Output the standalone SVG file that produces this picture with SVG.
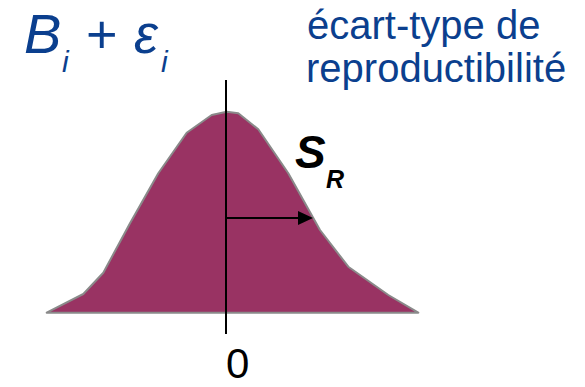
<svg xmlns="http://www.w3.org/2000/svg" width="585" height="387" viewBox="0 0 585 387">
<defs>
<style>
.blue{fill:#0b3f8e;font-family:"Liberation Sans",Arial,sans-serif}
.blk{fill:#000;font-family:"Liberation Sans",Arial,sans-serif}
</style>
</defs>
<rect width="585" height="387" fill="#fff"/>
<g id="curve">
<path d="M46.7,312.7 L83.3,294 L103.3,272.7 L130,223.3 L158.3,173.3 L186.7,132.7 L211.7,115 L226.7,111.7 L238.3,113.3 L258.3,129.3 L288.3,173.3 L320,230 L348.3,266.7 L388.3,295 L418.3,312.7 Z" fill="#993363" stroke="#8a8a8a" stroke-width="2" stroke-linejoin="round"/>
</g>
<g id="connectors">
<line x1="226" y1="80" x2="226" y2="334" stroke="#000" stroke-width="2"/>
<line x1="226" y1="218" x2="298" y2="218" stroke="#000" stroke-width="2"/>
<path d="M298,211 L313,218 L298,225 z" fill="#000"/>
</g>
<g id="formula">
<text class="blue" x="24" y="53" font-size="56" font-style="italic">B</text>
<text class="blue" x="62" y="72" font-size="30" font-style="italic">i</text>
<text class="blue" x="86" y="53" font-size="54">+</text>
<text class="blue" x="134" y="53" font-size="54" font-style="italic">ε</text>
<text class="blue" x="161" y="72" font-size="30" font-style="italic">i</text>
</g>
<g id="label">
<text class="blue" x="307" y="39" font-size="40">écart-type de</text>
<text class="blue" x="306" y="82" font-size="40">reproductibilité</text>
</g>
<g id="sr">
<text class="blk" x="295" y="168" font-size="46" font-weight="bold" font-style="italic">S</text>
<text class="blk" x="326" y="188" font-size="25" font-weight="bold" font-style="italic">R</text>
</g>
<g id="zero">
<text class="blk" x="226" y="378" font-size="42">0</text>
</g>
</svg>
